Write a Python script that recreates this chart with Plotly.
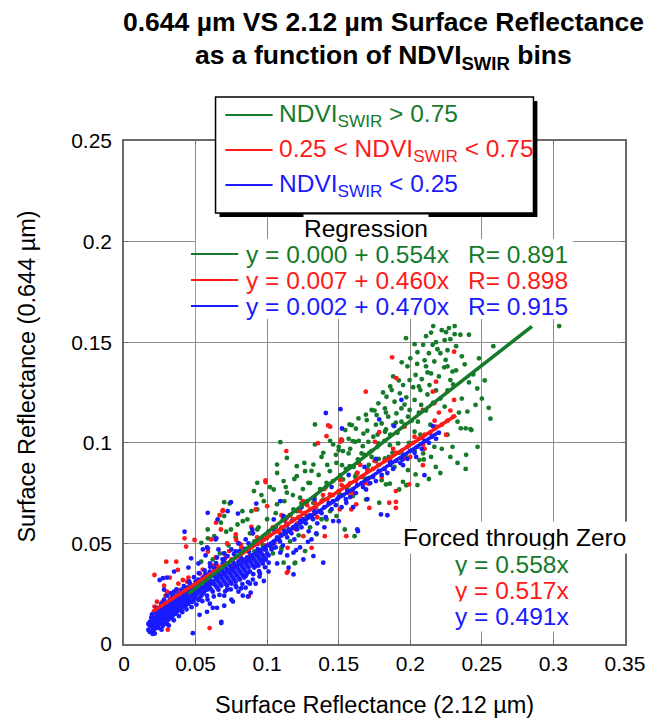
import plotly.graph_objects as go

# ---------------- data ----------------
GREEN_PTS = [
    (0.304,0.158),(0.2145,0.1548),(0.222,0.156),(0.225,0.155),(0.227,0.157),(0.231,0.154),(0.235,0.1537),
    (0.241,0.1537),(0.224,0.151),(0.228,0.1515),(0.209,0.1487),(0.2156,0.1487),(0.203,0.149),(0.258,0.148),
    (0.221,0.1445),(0.219,0.1465),(0.213,0.1445),(0.2247,0.1412),(0.210,0.141),(0.2168,0.1404),(0.2048,0.1392),
    (0.211,0.138),(0.2237,0.1375),(0.2295,0.1354),(0.2037,0.1337),(0.208,0.1316),(0.1995,0.1312),(0.2145,0.1345),
    (0.228,0.1312),(0.241,0.130),(0.2468,0.127),(0.195,0.1287),(0.202,0.1276),(0.207,0.1262),(0.2134,0.1287),
    (0.187,0.1262),(0.1927,0.1246),(0.1834,0.1229),(0.1972,0.1226),(0.203,0.1213),(0.189,0.1204),(0.2076,0.1188),
    (0.1777,0.1196),(0.1823,0.1171),(0.1938,0.1171),(0.1995,0.1163),(0.2456,0.1188),(0.2548,0.1174),(0.2399,0.1155),
    (0.173,0.1163),(0.1765,0.1138),(0.1846,0.113),(0.1903,0.1146),(0.1984,0.113),(0.1696,0.1113),(0.1638,0.1121),
    (0.1592,0.1088),(0.18,0.1096),(0.188,0.1088),(0.1938,0.1105),(0.2053,0.1105),(0.233,0.1105),(0.2387,0.1072),
    (0.2353,0.1072),(0.242,0.1068),(0.1546,0.1063),(0.1673,0.1046),(0.1742,0.103),(0.1823,0.1055),(0.203,0.1055),
    (0.1523,0.1013),(0.1615,0.1005),(0.1707,0.1005),(0.1777,0.0997),(0.1857,0.0988),(0.1915,0.0997),(0.2088,0.0997),
    (0.2168,0.098),(0.2295,0.098),(0.15,0.0963),(0.1569,0.0947),(0.166,0.0947),(0.173,0.093),(0.1823,0.0922),
    (0.203,0.0963),(0.209,0.0947),(0.2145,0.093),(0.228,0.093),(0.1523,0.0889),(0.1604,0.088),(0.17,0.0872),
    (0.1777,0.0889),(0.189,0.088),(0.1984,0.0864),(0.2064,0.0914),(0.2178,0.088),(0.2387,0.087),(0.1512,0.0839),
    (0.1615,0.0831),(0.1684,0.0822),(0.18,0.0814),(0.1857,0.0797),(0.1949,0.0806),(0.1972,0.0789),(0.1569,0.0789),
    (0.1334,0.1091),(0.1576,0.1091),(0.1334,0.0992),(0.1461,0.0992),(0.1599,0.1008),(0.1668,0.0983),(0.1772,0.1041),
    (0.183,0.1066),(0.1899,0.110),(0.1714,0.095),(0.153,0.0959),(0.1392,0.095),(0.1092,0.1003),(0.1138,0.0925),
    (0.1069,0.0892),(0.1207,0.0884),(0.1265,0.0859),(0.1323,0.0892),(0.1484,0.090),(0.1438,0.0859),(0.1576,0.0884),
    (0.1634,0.0917),(0.1759,0.0909),(0.1875,0.095),(0.1967,0.0934),(0.2094,0.0917),(0.2037,0.0843),(0.1922,0.0768),
    (0.183,0.0793),(0.1714,0.0826),(0.1622,0.0843),(0.153,0.0818),(0.1415,0.0801),(0.1288,0.0801),(0.1207,0.0834),
    (0.1115,0.081),(0.1046,0.0768),(0.0931,0.0801),(0.0908,0.076),(0.1138,0.0752),(0.123,0.0727),(0.1323,0.0702),
    (0.1392,0.0718),(0.1507,0.0743),(0.1599,0.0735),(0.1691,0.0718),(0.1783,0.0702),(0.0977,0.071),(0.1069,0.0694),
    (0.1184,0.0669),(0.1276,0.0636),(0.1415,0.0619),(0.1484,0.0636),(0.1611,0.0536),(0.1542,0.0569),(0.1346,0.0545),
    (0.1207,0.0586),(0.1115,0.0569),(0.0931,0.0669),(0.0862,0.0619),(0.0793,0.0594),(0.0747,0.0569),(0.0677,0.0603),
    (0.070,0.0636),(0.0931,0.0569),(0.100,0.0528),(0.1046,0.0478),(0.1115,0.0404),(0.1196,0.0404),(0.1265,0.0462),
    (0.0585,0.0569),(0.054,0.0503),(0.0631,0.0536),(0.0827,0.066),(0.0885,0.042),
    (0.0586,0.0525),(0.0714,0.0558),(0.0738,0.0698),(0.1099,0.0467),(0.1192,0.0401),(0.0539,0.0409),(0.0493,0.0285),
    (0.070,0.0705),(0.2427,0.1063),
    (0.048,0.027),(0.053,0.029),(0.057,0.033),(0.061,0.035),(0.066,0.036),(0.071,0.040),(0.076,0.041),(0.081,0.046),
    (0.086,0.047),(0.091,0.051),(0.096,0.052),(0.101,0.056),(0.106,0.058),(0.111,0.062),(0.116,0.064),(0.121,0.066),
    (0.124,0.070),(0.128,0.071),(0.133,0.073),(0.137,0.077),(0.141,0.078),(0.146,0.081),(0.151,0.083),(0.155,0.087),
    (0.159,0.088),(0.164,0.090),(0.168,0.094),(0.173,0.096),(0.177,0.098),(0.182,0.101),(0.186,0.104),(0.191,0.105),
    (0.196,0.109),(0.201,0.111),(0.206,0.115),(0.211,0.116),(0.216,0.120),(0.221,0.122),(0.226,0.126),
    (0.205,0.145),(0.218,0.150),(0.232,0.148),(0.226,0.146),(0.236,0.143),(0.212,0.135),(0.198,0.138),(0.192,0.131),
    (0.186,0.128),(0.218,0.126),(0.224,0.118),(0.236,0.122),(0.230,0.129),(0.196,0.119),(0.183,0.115),(0.176,0.109),
    (0.170,0.106),(0.164,0.101),(0.158,0.097),(0.148,0.094),(0.142,0.089),(0.136,0.084),(0.130,0.080),(0.125,0.077),
    (0.118,0.074),(0.112,0.071),(0.106,0.065),(0.100,0.062),(0.094,0.058),(0.088,0.055),(0.175,0.116),(0.181,0.125),
    (0.188,0.133),(0.194,0.140),(0.200,0.142),(0.206,0.128),(0.212,0.124),(0.220,0.133),(0.226,0.138),(0.232,0.136),
    (0.238,0.139),(0.244,0.134),(0.250,0.122),(0.234,0.115),(0.226,0.104),(0.222,0.097),(0.214,0.109),(0.207,0.104),
    (0.199,0.100),(0.192,0.095),(0.185,0.093),(0.178,0.092),(0.171,0.089),(0.163,0.085),(0.156,0.077),(0.149,0.072),
    (0.144,0.066),(0.138,0.062),(0.130,0.058),(0.122,0.054),(0.116,0.051),(0.110,0.048),(0.104,0.045),(0.097,0.049),
    (0.091,0.046),(0.169,0.114),(0.162,0.107),(0.157,0.102),(0.150,0.098),(0.144,0.101),(0.138,0.093),(0.131,0.086),
    (0.126,0.090),(0.119,0.082),(0.113,0.078),(0.107,0.085),(0.102,0.078),(0.096,0.074),(0.089,0.066),(0.083,0.061),
    (0.078,0.053),(0.073,0.049),(0.067,0.045),(0.062,0.042),(0.197,0.152),(0.211,0.153),(0.216,0.158),(0.231,0.158),
    (0.248,0.142),(0.252,0.131),(0.256,0.112),(0.247,0.098),(0.239,0.094),(0.233,0.090),(0.221,0.085),(0.213,0.082),
    (0.205,0.079),
]

RED_PTS = [
    (0.1873,0.1425),(0.2306,0.1453),(0.1903,0.1321),(0.1689,0.1254),(0.218,0.1304),(0.2157,0.1254),(0.2306,0.1213),
    (0.2168,0.1196),(0.2088,0.1163),(0.196,0.108),(0.1512,0.1005),(0.1753,0.1005),(0.2088,0.0889),(0.1707,0.0797),
    (0.1512,0.0814),(0.1355,0.0998),(0.144,0.108),(0.0989,0.0805),(0.19,0.0706),
    (0.1426,0.1086),(0.1415,0.1033),(0.1518,0.1017),(0.1783,0.1053),(0.2083,0.1025),(0.1134,0.0959),(0.0988,0.0813),
    (0.1991,0.0793),(0.1899,0.076),(0.1714,0.0677),(0.1853,0.0702),(0.1899,0.0677),(0.1622,0.0694),(0.1588,0.0669),
    (0.1507,0.0669),(0.1553,0.0536),(0.1403,0.0536),(0.1311,0.0478),(0.1253,0.0536),(0.1143,0.0478),(0.1138,0.0354),
    (0.0873,0.0238),(0.123,0.066),(0.1334,0.0702),(0.1438,0.0743),(0.1138,0.0627),(0.100,0.0685),(0.092,0.0669),
    (0.1127,0.0611),(0.0689,0.066),(0.0643,0.0603),(0.0677,0.0569),(0.0781,0.0545),(0.0816,0.0495),(0.0735,0.0462),
    (0.0608,0.052),(0.0654,0.0387),(0.077,0.0387),(0.0816,0.042),(0.0562,0.0338),(0.0747,0.0305),
    (0.0668,0.064),(0.0691,0.0665),(0.0423,0.0525),(0.0434,0.0484),(0.0493,0.0517),(0.0295,0.0409),(0.0365,0.0409),
    (0.0376,0.0368),(0.0411,0.0318),(0.0213,0.0343),(0.0586,0.0459),(0.0645,0.0393),(0.0784,0.0517),(0.0889,0.0582),
    (0.1145,0.036),(0.0598,0.0079),(0.0306,0.0071),(0.0213,0.0186),
    (0.021,0.016),(0.024,0.018),(0.027,0.021),(0.030,0.020),(0.033,0.023),(0.036,0.024),(0.039,0.025),(0.042,0.027),
    (0.045,0.028),(0.048,0.029),(0.051,0.031),(0.054,0.032),(0.057,0.034),(0.060,0.034),(0.063,0.037),(0.066,0.037),
    (0.069,0.039),(0.072,0.040),(0.075,0.042),(0.078,0.043),(0.081,0.044),(0.084,0.046),(0.087,0.047),(0.090,0.049),
    (0.094,0.050),(0.098,0.052),(0.102,0.054),(0.106,0.056),(0.110,0.058),(0.114,0.059),(0.118,0.062),(0.122,0.063),
    (0.126,0.065),(0.130,0.067),(0.134,0.068),(0.138,0.071),(0.142,0.072),(0.146,0.074),(0.150,0.076),(0.154,0.078),
    (0.158,0.080),(0.162,0.081),(0.166,0.083),(0.170,0.086),(0.174,0.087),(0.178,0.089),(0.182,0.091),(0.186,0.092),
    (0.190,0.095),(0.194,0.096),(0.198,0.098),(0.202,0.100),(0.206,0.102),(0.210,0.104),(0.214,0.105),(0.218,0.108),
    (0.222,0.109),(0.226,0.111),(0.230,0.113),
    (0.030,0.026),(0.035,0.019),(0.045,0.033),(0.050,0.025),(0.055,0.037),(0.060,0.030),(0.070,0.045),(0.075,0.036),
    (0.080,0.050),(0.085,0.041),(0.090,0.055),(0.095,0.045),(0.028,0.029),(0.032,0.033),(0.038,0.030),(0.064,0.043),
    (0.072,0.050),(0.105,0.050),(0.110,0.064),(0.12,0.057),(0.125,0.071),(0.135,0.063),(0.14,0.077),(0.16,0.075),
    (0.165,0.089),(0.18,0.083),(0.2,0.093),(0.21,0.097),(0.22,0.115),(0.225,0.104),
    (0.023,0.021),(0.026,0.015),(0.029,0.024),(0.034,0.021),(0.037,0.027),(0.041,0.023),(0.044,0.031),(0.049,0.027),
    (0.053,0.035),(0.058,0.031),(0.062,0.039),(0.067,0.034),(0.071,0.043),(0.076,0.039),(0.082,0.048),(0.088,0.044),
    (0.093,0.053),(0.099,0.049),(0.104,0.058),(0.109,0.055),(0.116,0.064),(0.121,0.060),(0.128,0.069),(0.133,0.065),
    (0.139,0.074),(0.144,0.070),(0.152,0.079),(0.157,0.075),(0.163,0.085),(0.168,0.080),(0.175,0.091),(0.182,0.087),
    (0.188,0.097),(0.195,0.092),(0.203,0.103),(0.209,0.099),(0.217,0.111),(0.228,0.116),
]

BLUE_PTS = [
    (0.017,0.007),(0.018,0.009),(0.018,0.011),(0.019,0.006),(0.019,0.010),(0.020,0.008),(0.020,0.012),(0.021,0.010),
    (0.021,0.007),(0.022,0.011),(0.022,0.013),(0.023,0.009),(0.023,0.014),(0.024,0.012),(0.024,0.010),(0.025,0.015),
    (0.025,0.011),(0.026,0.013),(0.026,0.016),(0.027,0.012),(0.027,0.017),(0.028,0.014),(0.028,0.010),(0.029,0.016),
    (0.029,0.019),(0.030,0.013),(0.030,0.017),(0.031,0.015),(0.031,0.020),(0.032,0.018),(0.032,0.014),(0.033,0.017),
    (0.033,0.021),(0.034,0.016),(0.034,0.019),(0.035,0.022),(0.035,0.018),(0.036,0.015),(0.036,0.020),(0.037,0.023),
    (0.037,0.019),(0.038,0.017),(0.038,0.021),(0.039,0.024),(0.039,0.020),(0.040,0.018),(0.040,0.022),(0.041,0.025),
    (0.041,0.021),(0.042,0.019),(0.042,0.023),(0.043,0.026),(0.043,0.022),(0.044,0.020),(0.044,0.024),(0.045,0.027),
    (0.045,0.023),(0.046,0.021),(0.046,0.025),(0.047,0.028),(0.048,0.024),(0.049,0.022),(0.050,0.026),
    (0.052,0.027),(0.053,0.023),(0.054,0.029),(0.055,0.025),(0.056,0.031),(0.057,0.027),(0.058,0.024),(0.058,0.030),
    (0.059,0.033),(0.060,0.028),(0.061,0.031),(0.062,0.026),(0.062,0.034),(0.063,0.030),(0.064,0.033),(0.065,0.028),
    (0.065,0.036),(0.066,0.031),(0.067,0.034),(0.068,0.029),(0.068,0.037),(0.069,0.032),(0.070,0.035),(0.071,0.030),
    (0.071,0.038),(0.072,0.033),(0.073,0.036),(0.074,0.031),(0.074,0.039),(0.075,0.034),(0.076,0.037),(0.077,0.032),
    (0.077,0.040),(0.078,0.035),(0.079,0.038),(0.080,0.033),(0.080,0.041),(0.081,0.036),(0.082,0.039),(0.083,0.034),
    (0.083,0.042),(0.084,0.037),(0.085,0.040),(0.086,0.035),(0.086,0.043),(0.087,0.038),(0.088,0.041),(0.089,0.044),
    (0.090,0.039),(0.091,0.042),(0.092,0.045),(0.093,0.040),(0.094,0.043),(0.095,0.046),(0.096,0.041),(0.097,0.044),
    (0.098,0.047),(0.099,0.042),(0.100,0.045),
    (0.060,0.020),(0.065,0.018),(0.070,0.024),(0.075,0.022),(0.080,0.026),(0.085,0.028),(0.090,0.032),(0.095,0.035),
    (0.072,0.027),(0.078,0.029),(0.088,0.030),(0.060,0.040),(0.065,0.043),(0.070,0.045),(0.075,0.047),(0.080,0.050),
    (0.085,0.052),(0.090,0.055),(0.058,0.048),(0.064,0.052),(0.070,0.042),
    (0.102,0.049),(0.105,0.051),(0.108,0.052),(0.110,0.054),(0.113,0.055),(0.115,0.057),(0.118,0.058),(0.120,0.059),
    (0.123,0.061),(0.125,0.062),(0.128,0.063),(0.130,0.064),(0.133,0.066),(0.136,0.066),(0.140,0.068),(0.143,0.070),
    (0.146,0.071),(0.150,0.073),(0.153,0.074),(0.156,0.076),(0.160,0.077),(0.163,0.079),(0.166,0.080),(0.170,0.082),
    (0.174,0.083),(0.178,0.086),(0.182,0.087),(0.186,0.089),(0.190,0.091),(0.195,0.094),(0.200,0.096),(0.205,0.098),
    (0.210,0.101),(0.215,0.103),(0.220,0.105),
    (0.1512,0.1167),(0.1523,0.1071),(0.1938,0.1213),(0.2041,0.093),(0.2099,0.0839),(0.1949,0.0889),(0.2157,0.1083),
    (0.1857,0.0905),(0.1783,0.1116),(0.1887,0.1083),(0.1945,0.0917),(0.1092,0.071),(0.1115,0.0636),(0.1173,0.0611),
    (0.1046,0.0619),(0.0896,0.0569),(0.0747,0.0705),(0.0724,0.066),(0.0585,0.0652),(0.0654,0.0619),(0.0551,0.047),
    (0.1023,0.0487),(0.1092,0.0454),(0.1011,0.0404),(0.1184,0.0454),(0.1253,0.042),(0.115,0.0379),(0.1323,0.0437),
    (0.1392,0.0404),(0.1461,0.0611),(0.1634,0.0561),(0.1795,0.0644),(0.1691,0.0768),(0.1553,0.0702),(0.085,0.0338),
    (0.0977,0.0313),(0.0885,0.0255),(0.0919,0.0387),(0.0977,0.042),(0.1184,0.0346),
    (0.0423,0.0558),(0.0249,0.0318),(0.0272,0.0327),(0.0469,0.0426),(0.0586,0.0475),(0.0645,0.0525),(0.0796,0.0648),
    (0.0924,0.0698),(0.0761,0.0211),(0.0866,0.0236),(0.0679,0.0104),(0.0481,0.0054),(0.0528,0.0145),(0.1134,0.0591),
    (0.1285,0.0508),(0.1343,0.055),(0.1203,0.0467),(0.0947,0.0335),(0.0819,0.0277),(0.184,0.064),(0.163,0.057),
    (0.141,0.1148),(0.068,0.011),
    (0.017,0.010),(0.018,0.006),(0.019,0.013),(0.020,0.005),(0.020,0.015),(0.021,0.013),(0.022,0.008),(0.022,0.016),
    (0.023,0.012),(0.023,0.018),(0.024,0.015),(0.024,0.008),(0.025,0.013),(0.025,0.018),(0.026,0.010),(0.026,0.020),
    (0.027,0.015),(0.027,0.009),(0.028,0.018),(0.028,0.022),(0.029,0.012),(0.029,0.014),(0.030,0.020),(0.030,0.010),
    (0.030,0.024),(0.031,0.018),(0.031,0.012),(0.032,0.016),(0.032,0.022),(0.033,0.013),(0.033,0.019),(0.034,0.024),
    (0.034,0.014),(0.035,0.016),(0.035,0.026),(0.036,0.018),(0.036,0.023),(0.037,0.016),(0.037,0.021),(0.038,0.019),
    (0.038,0.025),(0.039,0.017),(0.039,0.022),(0.040,0.020),(0.040,0.027),(0.041,0.018),(0.041,0.023),(0.042,0.021),
    (0.042,0.026),(0.043,0.019),(0.043,0.024),(0.044,0.022),(0.044,0.028),(0.045,0.020),(0.045,0.025),(0.046,0.023),
    (0.046,0.030),(0.047,0.021),(0.047,0.025),(0.048,0.027),(0.048,0.021),(0.049,0.025),(0.049,0.029),(0.050,0.023),
    (0.050,0.031),(0.051,0.025),(0.051,0.029),(0.052,0.022),(0.052,0.032),(0.053,0.026),(0.053,0.030),(0.054,0.024),
    (0.055,0.028),(0.055,0.033),(0.056,0.026),(0.057,0.030),(0.057,0.035),(0.058,0.027),(0.059,0.029),(0.060,0.032),
    (0.060,0.036),(0.061,0.027),(0.062,0.030),(0.063,0.034),(0.063,0.038),(0.064,0.029),(0.065,0.032),(0.066,0.035),
    (0.066,0.027),(0.067,0.030),(0.068,0.033),(0.069,0.036),(0.069,0.040),(0.070,0.031),(0.071,0.034),(0.072,0.037),
    (0.072,0.029),(0.073,0.032),(0.074,0.035),(0.075,0.038),(0.075,0.030),(0.076,0.033),(0.077,0.036),(0.078,0.039),
    (0.078,0.031),(0.079,0.034),(0.080,0.037),(0.081,0.040),(0.081,0.032),(0.082,0.035),(0.083,0.038),(0.084,0.041),
    (0.084,0.033),(0.085,0.036),(0.086,0.039),(0.087,0.042),(0.088,0.036),(0.089,0.040),(0.090,0.043),(0.091,0.038),
    (0.092,0.041),(0.093,0.044),(0.094,0.039),(0.095,0.042),(0.096,0.045),(0.097,0.040),(0.098,0.043),(0.099,0.047),
    (0.101,0.044),(0.103,0.047),(0.104,0.050),(0.106,0.048),(0.107,0.053),(0.109,0.051),(0.111,0.049),(0.112,0.056),
    (0.114,0.053),(0.117,0.055),(0.119,0.052),(0.121,0.057),(0.124,0.058),(0.127,0.060),(0.129,0.056),(0.132,0.062),
    (0.135,0.060),(0.138,0.065),(0.141,0.063),(0.145,0.067),(0.148,0.069),(0.152,0.068),(0.155,0.072),(0.158,0.073),
    (0.162,0.075),(0.167,0.078),(0.172,0.080),(0.176,0.081),(0.180,0.084),(0.184,0.085),(0.188,0.087),(0.193,0.090),
    (0.198,0.092),(0.203,0.095),(0.208,0.097),(0.213,0.100),(0.218,0.102),
    (0.030,0.033),(0.035,0.036),(0.028,0.027),(0.045,0.038),(0.052,0.040),(0.057,0.044),(0.066,0.047),(0.078,0.046),
    (0.087,0.050),(0.062,0.018),(0.070,0.019),(0.058,0.016),(0.083,0.024),(0.092,0.030),(0.101,0.036),(0.107,0.040),
    (0.114,0.044),(0.123,0.048),(0.131,0.052),(0.140,0.058),(0.150,0.061),(0.160,0.068),(0.170,0.072),(0.124,0.068),
    (0.133,0.072),(0.145,0.078),(0.157,0.084),(0.168,0.088),(0.176,0.092),(0.112,0.062),(0.104,0.057),(0.097,0.052),
    (0.0195,0.0145),(0.0215,0.0052),(0.0235,0.0165),(0.0262,0.0071),(0.0288,0.0205),(0.0313,0.0092),(0.0327,0.0253),
    (0.0348,0.0118),(0.0366,0.0271),(0.0384,0.0139),(0.0407,0.0158),(0.0418,0.0288),(0.0437,0.0172),(0.0455,0.0311),
    (0.0472,0.0183),(0.0489,0.0332),(0.0506,0.0196),(0.0523,0.0352),(0.0547,0.0213),(0.0563,0.0366),(0.0584,0.0221),
    (0.0602,0.0384),(0.0627,0.0236),(0.0643,0.0402),(0.0667,0.0244),(0.0688,0.0421),(0.0707,0.0262),(0.0723,0.0437),
    (0.0746,0.0271),(0.0768,0.0447),(0.0785,0.0282),(0.0806,0.0461),(0.0827,0.0298),(0.0845,0.0473),(0.0866,0.0307),
    (0.0887,0.0486),(0.0903,0.0347),(0.0928,0.0497),(0.0944,0.0362),(0.0962,0.0512),(0.0985,0.0381),(0.0331,0.0152),
    (0.0373,0.0203),(0.0442,0.0246),(0.0514,0.0278),(0.0571,0.0318),(0.0634,0.0347),(0.0696,0.0386),(0.0758,0.0413),
    (0.0814,0.0433),(0.0873,0.0458),(0.0935,0.0471),(0.0296,0.0148),(0.0258,0.0127),(0.0221,0.0097),
]

# regression fits: (intercept, slope, x_start, x_end, R)
REG_GREEN = (0.000, 0.554, 0.045, 0.285, 0.891)
REG_RED   = (0.007, 0.460, 0.020, 0.232, 0.898)
REG_BLUE  = (0.002, 0.470, 0.018, 0.220, 0.915)
FORCED_SLOPES = [0.558, 0.517, 0.491]   # green, red, blue

X_TICKS = [0, 0.05, 0.1, 0.15, 0.2, 0.25, 0.3, 0.35]
Y_TICKS = [0, 0.05, 0.1, 0.15, 0.2, 0.25]

# ---------------- styling ----------------
GREEN = "#157a2a"
RED = "#ff1a1a"
BLUE = "#1a1aff"
FONT = "Liberation Sans, Arial, Helvetica, sans-serif"
TXT = 24.5

W, H = 657, 719
L, R, T, B = 124, 24, 141, 75
PW, PH = W - L - R, H - T - B


def px(x):
    return (x - L) / PW


def py(y):
    return (H - B - y) / PH


fig = go.Figure()

for pts, col in [(GREEN_PTS, GREEN), (RED_PTS, RED), (BLUE_PTS, BLUE)]:
    fig.add_trace(go.Scatter(
        x=[p[0] for p in pts], y=[p[1] for p in pts], mode="markers",
        marker=dict(size=4.8, color=col, line=dict(width=0)),
        showlegend=False, hoverinfo="skip"))

for reg, col in [(REG_RED, RED), (REG_BLUE, BLUE), (REG_GREEN, GREEN)]:
    a, b, x0, x1, _ = reg
    fig.add_trace(go.Scatter(
        x=[x0, x1], y=[a + b * x0, a + b * x1], mode="lines",
        line=dict(color=col, width=3.5), showlegend=False, hoverinfo="skip"))

axis_common = dict(
    showgrid=True, gridcolor="#8c8c8c", gridwidth=1, zeroline=False,
    showline=True, linecolor="#6a6a6a", linewidth=1.5, mirror="ticks",
    ticks="inside", ticklen=4, tickcolor="#6a6a6a",
    tickfont=dict(family=FONT, size=21, color="black"),
)
fig.update_xaxes(range=[0, 0.35], tickvals=X_TICKS, ticktext=[f"{v:g}" for v in X_TICKS], **axis_common)
fig.update_yaxes(range=[0, 0.25], tickvals=Y_TICKS, ticktext=[f"{v:g}" for v in Y_TICKS],
                 ticklabelstandoff=6, **axis_common)

shapes = []
annos = []

# legend box with drop shadow
shapes.append(dict(type="rect", xref="paper", yref="paper", x0=px(221), x1=px(544), y0=py(217), y1=py(101),
                   fillcolor="black", line=dict(width=0), layer="above"))
shapes.append(dict(type="rect", xref="paper", yref="paper", x0=px(217), x1=px(540), y0=py(213), y1=py(97),
                   fillcolor="white", line=dict(color="black", width=1.5), layer="above"))
legend_items = [
    (GREEN, "NDVI<sub>SWIR</sub> &gt; 0.75", 115),
    (RED, "0.25 &lt; NDVI<sub>SWIR</sub> &lt; 0.75", 150),
    (BLUE, "NDVI<sub>SWIR</sub> &lt; 0.25", 185),
]
for col, txt, yy in legend_items:
    shapes.append(dict(type="line", xref="paper", yref="paper", x0=px(227), x1=px(275), y0=py(yy), y1=py(yy),
                       line=dict(color=col, width=2), layer="above"))
    annos.append(dict(x=px(279), y=py(yy), xref="paper", yref="paper", text=txt, showarrow=False,
                      xanchor="left", yanchor="middle", font=dict(family=FONT, size=TXT, color=col)))

# regression block
shapes.append(dict(type="rect", xref="paper", yref="paper", x0=px(197), x1=px(580), y0=py(319), y1=py(239),
                   fillcolor="white", line=dict(width=0), layer="above"))
annos.append(dict(x=px(370), y=py(228), xref="paper", yref="paper", text="Regression", showarrow=False,
                  xanchor="center", yanchor="middle", bgcolor="white", borderpad=0,
                  font=dict(family=FONT, size=TXT, color="black")))
for (a, b, _, _, rr), col, yy in [(REG_GREEN, GREEN, 254), (REG_RED, RED, 280), (REG_BLUE, BLUE, 306)]:
    shapes.append(dict(type="line", xref="paper", yref="paper", x0=px(192), x1=px(240), y0=py(yy), y1=py(yy),
                       line=dict(color=col, width=2), layer="above"))
    annos.append(dict(x=px(246), y=py(yy), xref="paper", yref="paper",
                      text=f"y = {a:.3f} + {b:.3f}x", showarrow=False, xanchor="left", yanchor="middle",
                      font=dict(family=FONT, size=TXT, color=col)))
    annos.append(dict(x=px(471), y=py(yy), xref="paper", yref="paper",
                      text=f"R= {rr:.3f}", showarrow=False, xanchor="left", yanchor="middle",
                      font=dict(family=FONT, size=TXT, color=col)))

# forced through zero block
annos.append(dict(x=px(404), y=py(537), xref="paper", yref="paper", text="Forced through Zero", showarrow=False,
                  xanchor="left", yanchor="middle", bgcolor="white", borderpad=2,
                  font=dict(family=FONT, size=TXT, color="black")))
for s, col, yy in zip(FORCED_SLOPES, [GREEN, RED, BLUE], [564, 590, 616]):
    annos.append(dict(x=px(458), y=py(yy), xref="paper", yref="paper", text=f"y = {s:.3f}x", showarrow=False,
                      xanchor="left", yanchor="middle", bgcolor="white", borderpad=1,
                      font=dict(family=FONT, size=TXT, color=col)))

# titles
annos.append(dict(x=px(388), y=py(22), xref="paper", yref="paper",
                  text="<b>0.644 µm VS 2.12 µm Surface Reflectance</b>", showarrow=False,
                  xanchor="center", yanchor="middle", font=dict(family=FONT, size=26.5, color="black")))
annos.append(dict(x=px(388), y=py(57), xref="paper", yref="paper",
                  text="<b>as a function of NDVI<sub>SWIR</sub> bins</b>", showarrow=False,
                  xanchor="center", yanchor="middle", font=dict(family=FONT, size=26.5, color="black")))
annos.append(dict(x=px(378), y=py(705), xref="paper", yref="paper", text="Surface Reflectance (2.12 µm)",
                  showarrow=False, xanchor="center", yanchor="middle",
                  font=dict(family=FONT, size=23.5, color="black")))
annos.append(dict(x=px(25), y=py(377), xref="paper", yref="paper", text="Surface Reflectance (0.644 µm)",
                  showarrow=False, xanchor="center", yanchor="middle", textangle=-90,
                  font=dict(family=FONT, size=23.5, color="black")))

fig.update_layout(
    width=W, height=H, autosize=False,
    margin=dict(l=L, r=R, t=T, b=B, pad=0),
    paper_bgcolor="white", plot_bgcolor="white",
    shapes=shapes, annotations=annos, showlegend=False,
)

fig.write_html("out.html", config={"displayModeBar": False},
               post_script="document.body.style.margin='0';document.body.style.overflow='hidden';")
